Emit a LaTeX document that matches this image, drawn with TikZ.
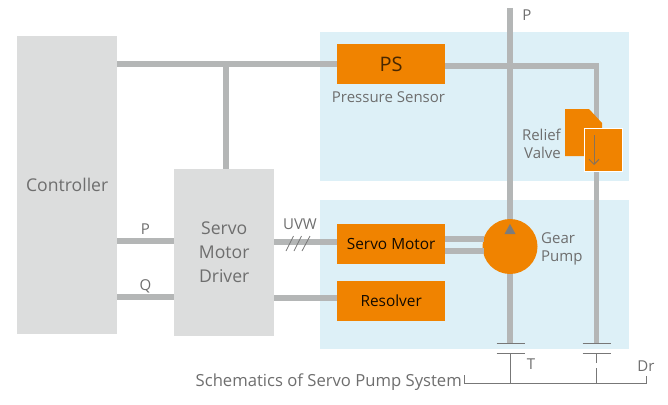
\documentclass[tikz,border=0pt]{standalone}
\usepackage{fontspec}
\usetikzlibrary{arrows.meta}
\setmainfont{Open Sans}
\definecolor{orangeb}{HTML}{F08300}
\definecolor{blueb}{HTML}{DDF0F7}
\definecolor{greyb}{HTML}{DCDDDD}
\definecolor{pipec}{HTML}{B4B6B6}
\definecolor{txtc}{HTML}{6E6E6E}
\definecolor{thinc}{HTML}{777777}
\tikzset{
 zone/.style={fill=blueb,draw=none,minimum width=309pt,minimum height=149pt,anchor=north west,inner sep=0},
 greybox/.style={fill=greyb,draw=none,minimum width=100pt,anchor=north west,inner sep=0,text=txtc,font=\fontsize{17.6}{24}\selectfont,align=center},
 orangebox/.style={fill=orangeb,draw=none,minimum width=108pt,minimum height=40pt,anchor=north west,inner sep=0,text=black!92!orangeb,font=\fontsize{15.4}{18}\selectfont},
 pipe/.style={draw=pipec,line width=5.5pt},
 thin line/.style={draw=thinc,line width=1pt},
 lbl/.style={text=txtc,font=\fontsize{15}{18.5}\selectfont,inner sep=0,align=center},
}
\begin{document}
\begin{tikzpicture}[x=1pt,y=-1pt]
\useasboundingbox (0,0) rectangle (668,404);
\node[zone] (ztop) at (320,32) {};
\node[zone] (zbot) at (320,200) {};
\node[greybox,minimum height=298pt] (ctrl) at (17,36) {Controller};
\node[greybox,minimum height=167pt] (drv) at (174,169) {Servo\\Motor\\Driver};
\node[orangebox,font=\fontsize{20}{24}\selectfont,text=black!70!orangeb] (ps) at (337,44) {PS};
\node[orangebox] (motor) at (337,224) {Servo Motor};
\node[orangebox] (res) at (337,281) {Resolver};
\coordinate (ptop) at (510,8);
\coordinate (t1) at (510,343);
\coordinate (t2) at (596.5,343);
\coordinate (corner) at (596.5,66);
\coordinate (jn) at (226,64);
\coordinate (jb) at (226,169);
% pipes
\draw[pipe] (ptop) -- (t1);
\draw[pipe] (ctrl.east |- jn) -- (ps.west |- jn);
\draw[pipe] (jn) -- (jb);
\draw[pipe] (ps.east |- corner) -- (corner) -- (t2);
\draw[pipe] (ctrl.east |- 0,241) -- (drv.west |- 0,241);
\draw[pipe] (ctrl.east |- 0,297) -- (drv.west |- 0,297);
\draw[pipe] (drv.east |- 0,242) -- (motor.west |- 0,242);
\draw[pipe] (drv.east |- 0,298) -- (res.west |- 0,298);
\node[circle,fill=orangeb,minimum size=55pt,inner sep=0] (pump) at (510,246.5) {};
\draw[pipe] (motor.east |- 0,239) -- (484,239);
\draw[pipe] (motor.east |- 0,251) -- (484,251);
\fill[txtc!90] (510,224) -- (515.5,234) -- (504.5,234) -- cycle;
% relief valve
\fill[orangeb] (565,109) -- (589,109) -- (602,123) -- (602,156) -- (565,156) -- cycle;
\node[fill=orangeb,draw=white,line width=0.8pt,minimum width=38pt,minimum height=43pt,anchor=north west,inner sep=0] (valve) at (584,128) {};
\draw[draw=txtc!80!orangeb,line width=1pt,-{Straight Barb[length=5pt,width=10pt]}] (594,135) -- (594,165);
% tank symbols
\foreach \n/\x in {a/510.5,b/596.5}{
 \draw[thin line] (\x-14,343) -- (\x+14,343);
 \draw[thin line] (\x-14,353) -- (\x+14,353);
}
\coordinate (bl) at (464,383);
\coordinate (br) at (646,383);
\draw[thin line] (464,375) -- (bl) -- (br) -- (646,376);
\draw[thin line] (510.5,353) -- (510.5,383);
\draw[thin line] (596.5,353) -- (596.5,363);
\draw[thin line] (596.5,368) -- (596.5,383);
% slashes
\draw[draw=thinc,line width=0.8pt] (286,251) -- (293.5,236) (294,251) -- (301.5,236) (302,251) -- (310,236);
% labels
\node[lbl,anchor=center] (lp) at (527,15) {P};
\node[lbl] (lps) at (388.5,97) {Pressure Sensor};
\node[lbl,align=right,anchor=east] (lrv) at (561,144) {Relief\\Valve};
\node[lbl] (luvw) at (300,224) {UVW};
\node[lbl] (lpp) at (145.5,229) {P};
\node[lbl] (lq) at (145.5,286) {Q};
\node[lbl,align=left,anchor=west] (lgp) at (541,249) {Gear\\Pump};
\node[lbl] (lt) at (531,364) {T};
\node[lbl] (ldr) at (646,366) {Dr};
\node[lbl,anchor=east,font=\fontsize{16.65}{20}\selectfont] (lsch) at (462,382) {Schematics of Servo Pump System};
\end{tikzpicture}
\end{document}
